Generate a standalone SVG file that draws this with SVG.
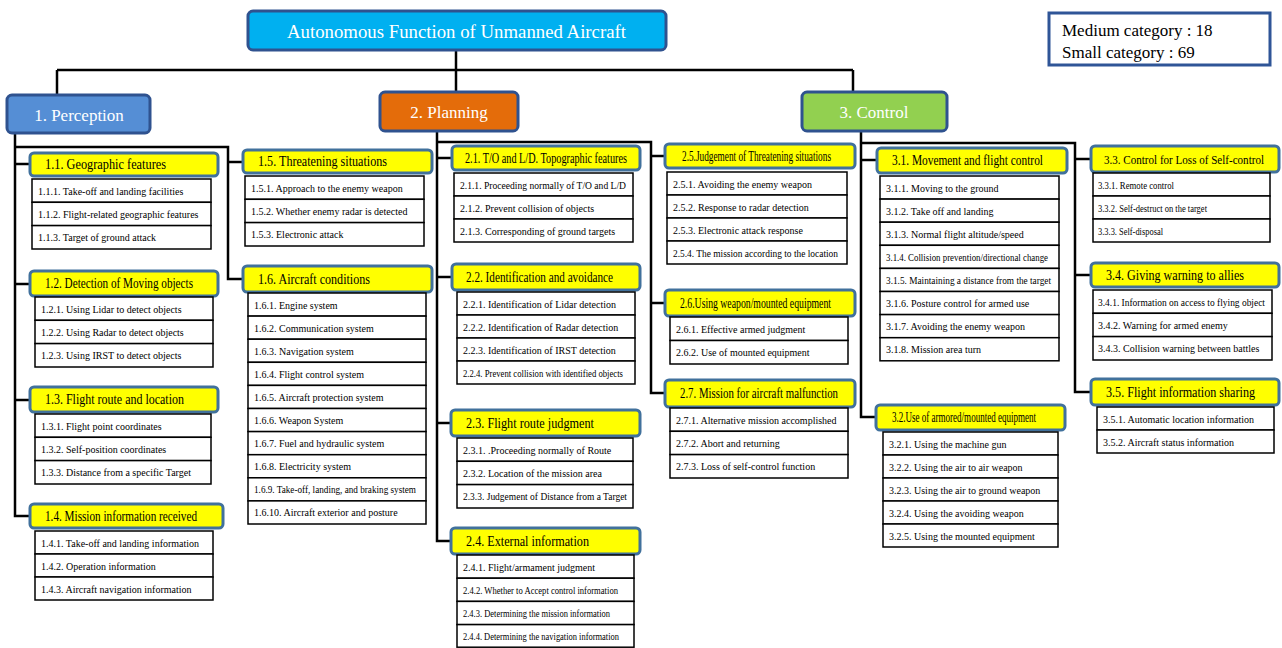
<svg xmlns="http://www.w3.org/2000/svg" width="1282" height="648" viewBox="0 0 1282 648">
<style>
text{font-family:"Liberation Serif","Times New Roman",serif;fill:#000}
.main{stroke:#2F528F;stroke-width:3}
.wt{fill:#fff;font-size:17px}
.hdr rect.h{fill:#FFFF00;stroke:#41719C;stroke-width:3}
.hdr text.ht{font-size:14px}
.hdr rect.r{fill:#fff;stroke:#000;stroke-width:1.5}
.hdr text.t{font-size:10px}
.conn path{fill:none;stroke:#000;stroke-width:2.5}
.leg{fill:#fff;stroke:#2F5597;stroke-width:3}
.lt{font-size:17px}
</style>
<rect width="1282" height="648" fill="#fff"/>
<g class="conn" id="connectors">
<path d="M456,50 V92"/>
<path d="M57,70 H853"/>
<path d="M57,70 V95"/>
<path d="M853,70 V92"/>
<path d="M15,133 V516 H30"/>
<path d="M15,164 H30"/>
<path d="M15,284 H30"/>
<path d="M15,400 H30"/>
<path d="M15,147 H228 V279 H243"/>
<path d="M228,162 H243"/>
<path d="M437,131 V541 H451"/>
<path d="M437,142 H651 V393 H665"/>
<path d="M437,158 H452"/>
<path d="M437,277 H452"/>
<path d="M437,423 H451"/>
<path d="M651,156 H665"/>
<path d="M651,303 H665"/>
<path d="M861,131 V417 H876"/>
<path d="M861,143 H1075 V392 H1091"/>
<path d="M861,160 H877"/>
<path d="M1075,159 H1091"/>
<path d="M1075,275 H1091"/>
</g>
<g id="root">
<rect class="main" x="248" y="11" width="418" height="39" rx="5" fill="#00B0F0"/>
<text class="wt" x="287" y="38" textLength="339" lengthAdjust="spacingAndGlyphs" style="font-size:18px">Autonomous Function of Unmanned Aircraft</text>
</g>
<g id="legend">
<rect class="leg" x="1049" y="13" width="221" height="52"/>
<text class="lt" x="1062" y="36">Medium category : 18</text>
<text class="lt" x="1062" y="58">Small category : 69</text>
</g>
<g id="perception">
<rect class="main" x="7" y="95" width="143" height="38" rx="5" fill="#558ED5"/>
<text class="wt" x="79" y="121" text-anchor="middle">1. Perception</text>
</g>
<g id="planning">
<rect class="main" x="380" y="92" width="138" height="39" rx="5" fill="#E46C0A"/>
<text class="wt" x="449" y="118" text-anchor="middle">2. Planning</text>
</g>
<g id="control">
<rect class="main" x="802" y="92" width="145" height="39" rx="5" fill="#92D050"/>
<text class="wt" x="874" y="118" text-anchor="middle">3. Control</text>
</g>

<g id="c11" class="hdr">
<rect class="h" x="30" y="153" width="188" height="23" rx="4"/>
<text class="ht" x="45" y="169" textLength="121" lengthAdjust="spacingAndGlyphs">1.1.  Geographic features</text>
<rect class="r" x="32" y="179" width="179" height="23.3"/><text class="t" x="38" y="194.5">1.1.1. Take-off and landing facilities</text>
<rect class="r" x="32" y="202.3" width="179" height="23.3"/><text class="t" x="38" y="217.8">1.1.2. Flight-related geographic features</text>
<rect class="r" x="32" y="225.6" width="179" height="23.4"/><text class="t" x="38" y="241.1">1.1.3. Target of ground attack</text>
</g>
<g id="c12" class="hdr">
<rect class="h" x="30" y="271" width="188" height="25" rx="4"/>
<text class="ht" x="45" y="288" textLength="148" lengthAdjust="spacingAndGlyphs">1.2. Detection of Moving objects</text>
<rect class="r" x="35" y="297" width="178" height="23.3"/><text class="t" x="41" y="312.5">1.2.1. Using Lidar to detect objects</text>
<rect class="r" x="35" y="320.3" width="178" height="23.3"/><text class="t" x="41" y="335.8">1.2.2. Using Radar to detect objects</text>
<rect class="r" x="35" y="343.6" width="178" height="23.4"/><text class="t" x="41" y="359.1">1.2.3. Using IRST to detect objects</text>
</g>
<g id="c13" class="hdr">
<rect class="h" x="30" y="387" width="188" height="25" rx="4"/>
<text class="ht" x="45" y="404" textLength="139" lengthAdjust="spacingAndGlyphs">1.3. Flight route and location</text>
<rect class="r" x="35" y="414" width="176" height="23.3"/><text class="t" x="41" y="429.5">1.3.1. Flight point coordinates</text>
<rect class="r" x="35" y="437.3" width="176" height="23.3"/><text class="t" x="41" y="452.8">1.3.2. Self-position coordinates</text>
<rect class="r" x="35" y="460.6" width="176" height="23.4"/><text class="t" x="41" y="476.1">1.3.3. Distance from a specific Target</text>
</g>
<g id="c14" class="hdr">
<rect class="h" x="30" y="504" width="193" height="24" rx="4"/>
<text class="ht" x="45" y="521" textLength="152" lengthAdjust="spacingAndGlyphs">1.4. Mission information received</text>
<rect class="r" x="35" y="531" width="178" height="23"/><text class="t" x="41" y="546.5">1.4.1. Take-off and landing information</text>
<rect class="r" x="35" y="554" width="178" height="23"/><text class="t" x="41" y="569.5">1.4.2. Operation information</text>
<rect class="r" x="35" y="577" width="178" height="23"/><text class="t" x="41" y="592.5">1.4.3. Aircraft navigation information</text>
</g>
<g id="c15" class="hdr">
<rect class="h" x="243" y="150" width="189" height="23" rx="4"/>
<text class="ht" x="258" y="166" textLength="129" lengthAdjust="spacingAndGlyphs">1.5. Threatening situations</text>
<rect class="r" x="245" y="176" width="179" height="23.3"/><text class="t" x="251" y="191.5">1.5.1. Approach to the enemy weapon</text>
<rect class="r" x="245" y="199.3" width="179" height="23.3"/><text class="t" x="251" y="214.8">1.5.2. Whether enemy radar is detected</text>
<rect class="r" x="245" y="222.6" width="179" height="23.4"/><text class="t" x="251" y="238.1">1.5.3. Electronic attack</text>
</g>
<g id="c16" class="hdr">
<rect class="h" x="243" y="266" width="189" height="26" rx="4"/>
<text class="ht" x="258" y="284" textLength="112" lengthAdjust="spacingAndGlyphs">1.6. Aircraft conditions</text>
<rect class="r" x="248" y="293" width="178" height="23.1"/><text class="t" x="254" y="308.5">1.6.1. Engine system</text>
<rect class="r" x="248" y="316.1" width="178" height="23.1"/><text class="t" x="254" y="331.6">1.6.2. Communication system</text>
<rect class="r" x="248" y="339.2" width="178" height="23.1"/><text class="t" x="254" y="354.7">1.6.3. Navigation system</text>
<rect class="r" x="248" y="362.3" width="178" height="23.1"/><text class="t" x="254" y="377.8">1.6.4. Flight control system</text>
<rect class="r" x="248" y="385.4" width="178" height="23.1"/><text class="t" x="254" y="400.9">1.6.5. Aircraft protection system</text>
<rect class="r" x="248" y="408.5" width="178" height="23.1"/><text class="t" x="254" y="424">1.6.6. Weapon System</text>
<rect class="r" x="248" y="431.6" width="178" height="23.1"/><text class="t" x="254" y="447.1">1.6.7. Fuel and hydraulic system</text>
<rect class="r" x="248" y="454.7" width="178" height="23.1"/><text class="t" x="254" y="470.2">1.6.8. Electricity system</text>
<rect class="r" x="248" y="477.8" width="178" height="23.1"/><text class="t" x="254" y="493.3" textLength="162" lengthAdjust="spacingAndGlyphs">1.6.9. Take-off, landing, and braking system</text>
<rect class="r" x="248" y="500.9" width="178" height="23.1"/><text class="t" x="254" y="516.4">1.6.10. Aircraft exterior and posture</text>
</g>

<g id="c21" class="hdr">
<rect class="h" x="452" y="146" width="188" height="24" rx="4"/>
<text class="ht" x="465" y="163" textLength="162" lengthAdjust="spacingAndGlyphs">2.1. T/O and L/D. Topographic features</text>
<rect class="r" x="454" y="173" width="179" height="23"/><text class="t" x="460" y="188.5" textLength="166" lengthAdjust="spacingAndGlyphs">2.1.1. Proceeding normally of T/O and L/D</text>
<rect class="r" x="454" y="196" width="179" height="23"/><text class="t" x="460" y="211.5">2.1.2. Prevent collision of  objects</text>
<rect class="r" x="454" y="219" width="179" height="23"/><text class="t" x="460" y="234.5">2.1.3. Corresponding of ground targets</text>
</g>
<g id="c22" class="hdr">
<rect class="h" x="452" y="264" width="188" height="26" rx="4"/>
<text class="ht" x="466" y="282" textLength="147" lengthAdjust="spacingAndGlyphs">2.2. Identification and avoidance</text>
<rect class="r" x="457" y="292" width="178" height="23"/><text class="t" x="463" y="307.5">2.2.1. Identification of Lidar detection</text>
<rect class="r" x="457" y="315" width="178" height="23"/><text class="t" x="463" y="330.5">2.2.2. Identification of Radar detection</text>
<rect class="r" x="457" y="338" width="178" height="23"/><text class="t" x="463" y="353.5">2.2.3. Identification of  IRST detection</text>
<rect class="r" x="457" y="361" width="178" height="23"/><text class="t" x="463" y="376.5" textLength="160" lengthAdjust="spacingAndGlyphs">2.2.4. Prevent collision with identified objects</text>
</g>
<g id="c23" class="hdr">
<rect class="h" x="451" y="410" width="189" height="26" rx="4"/>
<text class="ht" x="466" y="428" textLength="128" lengthAdjust="spacingAndGlyphs">2.3. Flight route judgment</text>
<rect class="r" x="457" y="438" width="176" height="23.3"/><text class="t" x="463" y="453.5">2.3.1. .Proceeding normally of  Route</text>
<rect class="r" x="457" y="461.3" width="176" height="23.3"/><text class="t" x="463" y="476.8">2.3.2.  Location of the mission area</text>
<rect class="r" x="457" y="484.6" width="176" height="23.4"/><text class="t" x="463" y="500.1" textLength="164" lengthAdjust="spacingAndGlyphs">2.3.3. Judgement of Distance from a Target</text>
</g>
<g id="c24" class="hdr">
<rect class="h" x="451" y="528" width="189" height="26" rx="4"/>
<text class="ht" x="466" y="546" textLength="123" lengthAdjust="spacingAndGlyphs">2.4. External information</text>
<rect class="r" x="457" y="555" width="177" height="23.2"/><text class="t" x="463" y="570.5">2.4.1. Flight/armament judgment</text>
<rect class="r" x="457" y="578.2" width="177" height="23.2"/><text class="t" x="463" y="593.7" textLength="155" lengthAdjust="spacingAndGlyphs">2.4.2. Whether to Accept control information</text>
<rect class="r" x="457" y="601.4" width="177" height="23.2"/><text class="t" x="463" y="616.9" textLength="147" lengthAdjust="spacingAndGlyphs">2.4.3. Determining the mission information</text>
<rect class="r" x="457" y="624.6" width="177" height="22.6"/><text class="t" x="463" y="640.1" textLength="156" lengthAdjust="spacingAndGlyphs">2.4.4. Determining the navigation information</text>
</g>
<g id="c25" class="hdr">
<rect class="h" x="665" y="144" width="190" height="24" rx="4"/>
<text class="ht" x="682" y="161" textLength="149" lengthAdjust="spacingAndGlyphs">2.5.Judgement of Threatening situations</text>
<rect class="r" x="667" y="172" width="180" height="23"/><text class="t" x="673" y="187.5">2.5.1. Avoiding the enemy weapon</text>
<rect class="r" x="667" y="195" width="180" height="23"/><text class="t" x="673" y="210.5">2.5.2. Response to radar detection</text>
<rect class="r" x="667" y="218" width="180" height="23"/><text class="t" x="673" y="233.5">2.5.3. Electronic attack response</text>
<rect class="r" x="667" y="241" width="180" height="23"/><text class="t" x="673" y="256.5" textLength="165" lengthAdjust="spacingAndGlyphs">2.5.4.  The mission according to the location</text>
</g>
<g id="c26" class="hdr">
<rect class="h" x="665" y="290" width="190" height="26" rx="4"/>
<text class="ht" x="680" y="308" textLength="151" lengthAdjust="spacingAndGlyphs">2.6.Using weapon/mounted equipment</text>
<rect class="r" x="670" y="317" width="178" height="23.5"/><text class="t" x="676" y="332.7">2.6.1. Effective armed judgment</text>
<rect class="r" x="670" y="340.5" width="178" height="23.5"/><text class="t" x="676" y="356.2">2.6.2. Use of mounted equipment</text>
</g>
<g id="c27" class="hdr">
<rect class="h" x="665" y="380" width="190" height="27" rx="4"/>
<text class="ht" x="680" y="398" textLength="158" lengthAdjust="spacingAndGlyphs">2.7. Mission for aircraft malfunction</text>
<rect class="r" x="670" y="408" width="178" height="23.3"/><text class="t" x="676" y="423.5">2.7.1. Alternative mission accomplished</text>
<rect class="r" x="670" y="431.3" width="178" height="23.3"/><text class="t" x="676" y="446.8">2.7.2. Abort and returning</text>
<rect class="r" x="670" y="454.6" width="178" height="23.4"/><text class="t" x="676" y="470.1">2.7.3. Loss of self-control function</text>
</g>

<g id="c31" class="hdr">
<rect class="h" x="877" y="148" width="190" height="25" rx="4"/>
<text class="ht" x="892" y="165" textLength="151" lengthAdjust="spacingAndGlyphs">3.1. Movement and flight control</text>
<rect class="r" x="880" y="176" width="179" height="23.1"/><text class="t" x="886" y="191.5">3.1.1. Moving to the ground</text>
<rect class="r" x="880" y="199.1" width="179" height="23.1"/><text class="t" x="886" y="214.6">3.1.2. Take off and landing</text>
<rect class="r" x="880" y="222.2" width="179" height="23.1"/><text class="t" x="886" y="237.7">3.1.3. Normal flight altitude/speed</text>
<rect class="r" x="880" y="245.3" width="179" height="23.1"/><text class="t" x="886" y="260.8" textLength="162" lengthAdjust="spacingAndGlyphs">3.1.4. Collision prevention/directional change</text>
<rect class="r" x="880" y="268.4" width="179" height="23.1"/><text class="t" x="886" y="283.9" textLength="165" lengthAdjust="spacingAndGlyphs">3.1.5. Maintaining a distance from the target</text>
<rect class="r" x="880" y="291.5" width="179" height="23.1"/><text class="t" x="886" y="307">3.1.6. Posture control for armed use</text>
<rect class="r" x="880" y="314.6" width="179" height="23.1"/><text class="t" x="886" y="330.1">3.1.7. Avoiding the enemy weapon</text>
<rect class="r" x="880" y="337.7" width="179" height="23.1"/><text class="t" x="886" y="353.2">3.1.8. Mission area turn</text>
</g>
<g id="c32" class="hdr">
<rect class="h" x="876" y="405" width="189" height="25" rx="4"/>
<text class="ht" x="892" y="422" textLength="144" lengthAdjust="spacingAndGlyphs">3.2.Use of armored/mounted equipment</text>
<rect class="r" x="883" y="432" width="175" height="23"/><text class="t" x="889" y="447.5">3.2.1. Using the machine gun</text>
<rect class="r" x="883" y="455" width="175" height="23"/><text class="t" x="889" y="470.5">3.2.2. Using the air to air weapon</text>
<rect class="r" x="883" y="478" width="175" height="23"/><text class="t" x="889" y="493.5">3.2.3. Using the air to ground weapon</text>
<rect class="r" x="883" y="501" width="175" height="23"/><text class="t" x="889" y="516.5">3.2.4. Using the avoiding weapon</text>
<rect class="r" x="883" y="524" width="175" height="23"/><text class="t" x="889" y="539.5">3.2.5. Using the mounted equipment</text>
</g>
<g id="c33" class="hdr">
<rect class="h" x="1091" y="146" width="188" height="26" rx="4"/>
<text class="ht" x="1104" y="164" textLength="160" lengthAdjust="spacingAndGlyphs" style="font-size:11.5px">3.3. Control for Loss of Self-control</text>
<rect class="r" x="1093" y="173" width="177" height="23"/><text class="t" x="1098" y="188.5" textLength="76" lengthAdjust="spacingAndGlyphs">3.3.1. Remote control</text>
<rect class="r" x="1093" y="196" width="177" height="23"/><text class="t" x="1098" y="211.5" textLength="109" lengthAdjust="spacingAndGlyphs">3.3.2. Self-destruct on the target</text>
<rect class="r" x="1093" y="219" width="177" height="23"/><text class="t" x="1098" y="234.5" textLength="65" lengthAdjust="spacingAndGlyphs">3.3.3. Self-disposal</text>
</g>
<g id="c34" class="hdr">
<rect class="h" x="1091" y="263" width="188" height="24" rx="4"/>
<text class="ht" x="1106" y="280" textLength="138" lengthAdjust="spacingAndGlyphs">3.4. Giving warning to allies</text>
<rect class="r" x="1093" y="290" width="179" height="23.3"/><text class="t" x="1098" y="305.5" textLength="167" lengthAdjust="spacingAndGlyphs">3.4.1. Information on access to flying object</text>
<rect class="r" x="1093" y="313.3" width="179" height="23.3"/><text class="t" x="1098" y="328.8">3.4.2. Warning  for armed enemy</text>
<rect class="r" x="1093" y="336.6" width="179" height="23.4"/><text class="t" x="1098" y="352.1">3.4.3. Collision warning between battles</text>
</g>
<g id="c35" class="hdr">
<rect class="h" x="1091" y="379" width="188" height="26" rx="4"/>
<text class="ht" x="1106" y="397" textLength="149" lengthAdjust="spacingAndGlyphs">3.5. Flight information sharing</text>
<rect class="r" x="1097" y="407" width="177" height="23"/><text class="t" x="1103" y="422.5">3.5.1. Automatic location information</text>
<rect class="r" x="1097" y="430" width="177" height="23"/><text class="t" x="1103" y="445.5">3.5.2. Aircraft status information</text>
</g>
</svg>
